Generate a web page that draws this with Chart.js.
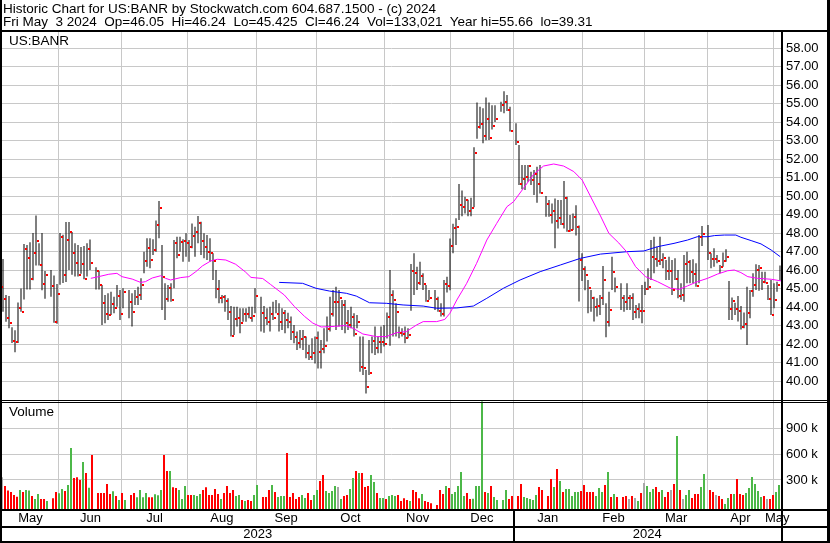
<!DOCTYPE html>
<html lang="en">
<head>
<meta charset="UTF-8">
<title>Historic Chart for US:BANR</title>
<script src="https://cdn.jsdelivr.net/npm/chart.js"></script>
<style>
  body { margin: 0; background: #fff; }
  #page { position: relative; width: 830px; height: 543px; overflow: hidden; color: #000;
          font-family: "Liberation Sans", Arial, sans-serif; }
  #page canvas { position: absolute; left: 0; top: 0; }
  .txt { position: absolute; font-size: 13.5px; line-height: 14px; white-space: pre; z-index: 2; }
</style>
</head>
<body>
<div id="page">
  <canvas id="chart" width="830" height="543"></canvas>
  <div class="txt" style="left:3px; top:2px">Historic Chart for US:BANR by Stockwatch.com 604.687.1500 - (c) 2024</div>
  <div class="txt" style="left:3px; top:15px">Fri May  3 2024  Op=46.05  Hi=46.24  Lo=45.425  Cl=46.24  Vol=133,021  Year hi=55.66  lo=39.31</div>
  <div class="txt" style="left:9px; top:34px">US:BANR</div>
  <div class="txt" style="left:9px; top:405px">Volume</div>
</div>

<script>
  // One slot per weekday, counted from Mon 1 May 2023. First slot shown: Fri 5 May 2023.
  // null = market holiday (no bar).
  const firstSlot = 4;

  const highs = [
    45.55, 46.60, 44.65, 44.60, 42.90, 42.75, 44.25, 45.00, 47.40, 47.35, 47.50, 48.00, 48.95, 47.45, 48.00, 45.95, null, 46.00, 45.70,
    45.25, 48.00, 47.90, 48.60, 48.60, 48.05, 47.45, 47.35, 47.25, 47.30, 47.45, 47.65, null, 46.15, 45.95, 45.19, 44.65, 44.74, 44.83, 44.56, 45.19, 44.92,
    45.01, null, 44.92, 44.74, 44.92, 45.10, 45.55, 46.99, 47.71, 47.71, 47.66, 48.67, 49.73, 47.35, 45.28, 45.19, 45.28, 47.62, 47.80, 47.80, 47.66,
    47.98, 47.62, 48.52, 48.34, 48.92, 48.61, 47.98, 47.89, 47.71, 46.90, 46.00, 45.46, 44.65, 44.65, 44.47, 44.05, 44.02, 44.02, 43.93, 43.93, 43.93, 44.02, 44.02,
    45.01, null, 44.56, 44.05, 43.93, 44.02, 44.29, 44.38, 44.20, 43.93, 43.84, 43.69, 43.48, 43.03, 42.67, 42.76, 42.76, 42.40, 41.95, 42.31, 42.40,
    42.67, 42.22, 42.85, 43.48, 44.56, 44.92, 45.10, 44.92, 44.38, 44.38, 43.84, 44.02, 43.66, 43.57, 42.40, 42.40, 40.59, 42.22, 42.40, 42.94, 42.40, 42.94,
    43.03, 43.70, 46.00, 44.90, 44.20, 42.94, 42.85, 42.94, 42.85, 46.33, 46.90, 46.18, 46.45, 45.82, 45.19, 44.92, null, 44.92, 44.56, 44.20, 45.46, 45.64,
    47.70, 48.50, 48.80, 50.65, 50.30, 49.96, 49.80, 49.90, 52.63, 55.06, 54.83, 54.74, 55.33, 55.05, 54.90, 54.90, null, 55.10, 55.66, 55.46, 54.83,
    null, 53.93, 52.76, 51.67, 51.67, 51.67, 51.31, 51.40, 51.58, 51.67, null, 50.00, 49.78, 49.60, 49.87, 49.78, 49.78, 50.81, 49.96, 48.97, 49.06, 49.50, 48.40,
    46.90, 46.20, 45.46, 44.92, 44.56, 44.47, 44.65, 46.22, 44.20, 44.83, 46.72, 45.60, null, 45.28, 44.65, 45.28, 44.65, 44.74, 44.11, 44.20, 45.19,
    45.37, 46.09, 47.62, 47.80, 47.26, 47.80, 46.90, 46.54, 46.72, 46.54, 46.63, 46.00, 45.28, 46.81, 46.99, 46.54, 46.58, 46.36, 47.89, 48.38, null,
    48.43, 46.90, 47.17, 46.81, 46.27, 46.94, 47.12, 45.40, 44.52, 44.23, 44.60, 44.05, 43.70, 45.10, 44.92, 45.82, 46.31, 46.27, 45.91, 45.91, 45.19, 45.46,
    45.28, 45.37, 46.24
  ];

  const lows = [
    43.30, 43.75, 43.20, 42.85, 42.05, 41.55, 42.05, 43.75, 44.40, 44.95, 44.95, 45.45, 46.25, 46.25, 44.90, 44.45, null, 44.55, 43.15,
    43.10, 45.20, 45.30, 45.35, 46.00, 45.75, 45.65, 45.65, 45.80, 45.50, 45.65, 46.00, null, 44.95, 44.95, 43.03, 43.12, 43.30, 43.57, 43.66, 44.02, 43.30,
    43.93, null, 43.39, 42.94, 44.11, 44.11, 44.38, 45.82, 46.18, 46.09, 46.81, 46.99, 47.71, 43.84, 43.30, 44.29, 44.29, 45.01, 46.63, 46.99, 46.45,
    46.72, 46.45, 47.17, 46.72, 47.44, 46.81, 46.63, 46.54, 46.45, 45.46, 44.47, 44.20, 44.20, 43.75, 43.30, 42.40, 42.49, 42.94, 42.58, 43.20, 43.20, 43.39, 43.20,
    43.66, null, 42.67, 42.61, 43.03, 42.67, 43.30, 43.66, 42.67, 42.76, 42.58, 42.85, 42.22, 42.04, 41.68, 41.77, 41.68, 41.23, 41.14, 41.14, 40.95,
    40.68, 40.68, 41.50, 42.13, 42.67, 43.48, 42.76, 42.94, 42.76, 42.58, 42.76, 42.85, 42.40, 42.85, 40.50, 40.32, 39.33, 40.32, 41.50, 41.40, 41.50, 41.50,
    41.86, 42.30, 41.90, 42.40, 42.40, 42.31, 42.40, 42.04, 42.31, 43.80, 44.65, 44.92, 45.19, 44.92, 44.29, 44.38, null, 43.84, 43.75, 43.48, 43.48, 44.78,
    44.90, 46.90, 47.35, 48.70, 48.90, 49.06, 48.90, 48.90, 49.39, 53.10, 53.64, 52.85, 53.02, 53.03, 53.60, 54.00, null, 54.56, 54.47, 54.60, 53.48,
    null, 52.76, 50.60, 50.36, 50.32, 50.77, 50.60, 50.05, 49.64, 50.14, null, 48.88, 48.88, 48.52, 47.17, 48.25, 48.43, 48.25, 48.07, 48.07, 48.16, 47.86, 44.30,
    45.40, 44.90, 43.66, 43.75, 43.21, 43.48, 43.57, 44.11, 42.36, 42.94, 44.92, 44.80, null, 43.84, 43.75, 43.84, 43.84, 43.30, 43.39, 43.39, 43.12,
    44.65, 44.92, 45.46, 45.82, 46.18, 46.27, 46.09, 45.46, 45.46, 44.65, 45.46, 44.47, 44.38, 44.29, 45.28, 45.28, 45.28, 45.10, 45.28, 47.30, null,
    46.54, 46.09, 46.18, 46.36, 45.82, 46.18, 46.45, 43.30, 43.30, 43.57, 43.21, 42.79, 42.85, 41.95, 43.39, 44.56, 44.92, 44.88, 44.92, 45.28, 44.38, 43.57,
    43.93, 44.83, 45.43
  ];

  const closes = [
    45.10, 44.41, 43.42, 43.15, 42.16, 42.11, 43.93, 43.75, 47.15, 46.67, 45.53, 46.94, 47.59, 46.29, 45.24, 45.75, null, 45.15, 43.21,
    44.72, 47.80, 45.75, 47.62, 48.05, 46.94, 46.40, 45.75, 46.34, 45.53, 47.12, 46.40, null, 45.93, 45.20, 44.23, 43.62, 43.57, 44.14, 43.93, 44.59, 43.62,
    44.83, null, 44.29, 43.73, 44.56, 44.67, 45.21, 46.50, 47.19, 46.54, 47.08, 48.45, 49.37, 45.64, 44.43, 45.01, 44.38, 47.48, 46.79, 47.53, 47.58,
    47.48, 47.22, 47.86, 48.05, 48.56, 47.58, 47.22, 46.99, 46.90, 46.47, 44.99, 44.49, 44.54, 44.33, 43.73, 42.45, 43.35, 43.42, 43.12, 43.64, 43.64, 43.42, 43.53,
    44.61, null, 43.69, 43.42, 43.21, 43.64, 43.42, 43.64, 43.21, 43.69, 43.32, 43.21, 42.67, 42.40, 42.07, 42.29, 42.40, 41.53, 41.30, 41.53, 42.34,
    41.59, 41.75, 41.91, 42.79, 43.64, 44.29, 44.29, 44.50, 44.10, 43.15, 43.05, 43.48, 42.54, 43.20, 40.77, 40.72, 39.69, 40.43, 42.18, 41.80, 42.13, 42.13,
    42.02, 43.48, 44.67, 44.38, 43.73, 42.61, 42.56, 42.34, 42.50, 45.96, 45.86, 45.32, 45.68, 45.24, 44.34, 44.47, null, 44.45, 43.80, 43.62, 45.23, 45.14,
    47.32, 48.25, 48.30, 49.51, 49.42, 49.80, 49.20, 49.35, 52.34, 53.75, 53.87, 53.26, 54.18, 53.15, 53.80, 54.18, null, 54.94, 55.10, 54.67, 53.53,
    null, 52.94, 50.67, 50.90, 51.05, 51.64, 50.88, 51.17, 50.67, 50.18, null, 49.59, 48.99, 49.21, 48.67, 48.83, 48.50, 49.87, 48.13, 48.18, 48.88, 48.34, 46.54,
    46.07, 45.73, 45.05, 44.50, 44.02, 44.05, 44.47, 45.46, 43.19, 43.84, 45.91, 45.08, null, 44.50, 44.29, 44.47, 44.47, 43.73, 43.91, 43.80, 43.80,
    44.95, 45.10, 46.68, 46.61, 46.50, 46.54, 46.67, 45.96, 45.96, 44.92, 45.50, 44.59, 44.65, 46.31, 46.42, 45.87, 45.78, 45.15, 47.77, 47.95, null,
    46.94, 46.61, 46.61, 46.50, 46.14, 46.50, 46.72, 43.91, 44.34, 43.91, 43.80, 42.94, 43.08, 43.69, 44.88, 45.19, 46.02, 46.13, 45.37, 45.32, 44.45, 43.57,
    44.38, 45.19, 46.24
  ];

  // thousands of shares
  const volumes = [
    331, 231, 177, 161, 126, 107, 184, 161, 184, 177, 115, 80, 138, 80, 80, 57, null, 87, 161,
    146, 196, 173, 242, 672, 324, 331, 300, 509, 382, 211, 591, null, 149, 149, 149, 254, 138, 169, 115, 68, 149,
    68, null, 126, 149, 99, 184, 99, 149, 99, 99, 134, 122, 184, 591, 405, 405, 215, 207, 184, 80, 231,
    126, 126, 126, 115, 138, 184, 215, 126, 126, 196, 138, 80, 149, 231, 149, 184, 115, 126, 68, 57, 68, 57, 126,
    242, null, 103, 103, 184, 242, 161, 103, 115, 115, 614, 103, 149, 80, 103, 126, 91, 149, 68, 126, 184,
    289, 358, 173, 149, 173, 231, 219, 80, 115, 126, 196, 324, 405, 382, 382, 219, 231, 358, 277, 149, 91, 91,
    80, 115, 126, 115, 126, 57, 87, 68, 57, 184, 161, 87, 138, 57, 45, 29, null, 10, 184, 138, 231, 207,
    138, 161, 231, 393, 115, 149, 80, 83, 231, 231, 1210, 161, 149, 231, 103, 68, null, 68, 184, 80, 115,
    null, 115, 254, 103, 91, 80, 68, 126, 219, 184, null, 115, 312, 219, 428, 289, 161, 196, 196, 115, 161, 161, 173,
    242, 161, 161, 161, 115, 207, 161, 242, 393, 103, 138, 103, null, 103, 115, 80, 115, 91, 57, 149, 265,
    231, 161, 196, 219, 161, 184, 103, 161, 184, 254, 811, 184, 80, 126, 184, 91, 138, 138, 219, 370, null,
    184, 161, 126, 115, 80, 21, 91, 138, 138, 312, 138, 126, 149, 207, 335, 254, 173, 103, 115, 80, 80, 126,
    161, 242, 133
  ];

  // u = green, d = red, n = grey, - = holiday
  const volumeTone = (
    'nddddduduuduuddu-dd' +
    'uuduudddudud-dddddudud' +
    'u-dduuuudduuuddudduuu' +
    'dduuuddddddudddduududdu' +
    'u-ddduduuuddddduudduu' +
    'dduuuunudduududdduuduu' +
    'duuuddddudddudd' + 'd-dddud' +
    'uuuuudduuuududuu-uudd' +
    '-dduuuuudd-ddududuuuuud' +
    'dddduuududud-ddndnudn' +
    'uuudduddndudnuuddduu-' +
    'ddndduududdduuuuuudndd' +
    'uuu'
  ).split('');

  // moving averages: slot position, price
  const maFastSlot = [34.1, 36.7, 40.1, 42.8, 44.5, 47.9, 50.7, 52.3, 54.6, 57.4, 59.0, 60.7, 64.1, 66.8, 69.1, 71.3, 74.1, 76.3, 79.1, 82.4,
    85.6, 87.5, 91.4, 94.0, 98.6, 102.0, 105.3, 108.1, 110.9, 115.3, 119.0, 121.5, 124.8, 129.3, 132.6, 136.0, 139.3, 142.7, 144.9, 149.4,
    152.1, 153.8, 156.1, 159.4, 162.7, 166.1, 169.4, 172.8, 175.0, 178.3, 181.7, 185.0, 188.4, 191.7, 195.1, 197.9, 200.6, 204.0, 206.8, 210.1,
    212.9, 215.7, 219.0, 223.0, 227.4, 230.2, 233.0, 236.3, 239.7, 243.0, 246.4, 248.6, 250.8, 253.1, 256.4, 260.9, 264.2];
  const maFastValue = [45.55, 45.64, 45.77, 45.82, 45.64, 45.51, 45.33, 45.37, 45.57, 45.69, 45.55, 45.46, 45.59, 45.64, 45.91, 46.22, 46.49, 46.58, 46.54, 46.31,
    45.90, 45.60, 45.54, 45.22, 44.65, 44.02, 43.50, 43.13, 42.92, 42.95, 43.00, 42.85, 42.54, 42.40, 42.40, 42.61, 42.67, 43.03, 43.21, 43.21,
    43.33, 43.66, 44.38, 45.28, 46.36, 47.62, 48.52, 49.42, 49.69, 50.41, 51.17, 51.62, 51.73, 51.62, 51.32, 50.86, 50.00, 48.92, 47.98, 47.46,
    46.95, 46.18, 45.64, 45.37, 45.01, 44.95, 45.14, 45.37, 45.55, 45.78, 45.96, 46.00, 45.86, 45.64, 45.55, 45.50, 45.41];

  const maSlowSlot = [96.9, 104.7, 109.2, 113.7, 119.3, 122.6, 127.0, 132.6, 138.2, 144.9, 149.4, 156.1, 161.6, 166.1, 171.6, 177.2, 183.9, 190.6,
    197.3, 204.0, 212.9, 218.5, 223.0, 228.5, 233.0, 236.3, 239.7, 242.0, 245.3, 249.1, 250.8, 254.2, 257.5, 260.9, 263.9];
  const maSlowValue = [45.33, 45.28, 45.01, 44.86, 44.74, 44.59, 44.23, 44.20, 44.11, 44.05, 43.93, 43.95, 44.05, 44.47, 45.01, 45.46, 45.91, 46.27,
    46.63, 46.86, 46.99, 47.03, 47.26, 47.44, 47.62, 47.80, 47.80, 47.86, 47.89, 47.89, 47.77, 47.59, 47.41, 47.08, 46.72];

  const priceTicks = [40, 41, 42, 43, 44, 45, 46, 47, 48, 49, 50, 51, 52, 53, 54, 55, 56, 57, 58];
  const volumeTicks = [300, 600, 900];
  const monthLabels = ['May', 'Jun', 'Jul', 'Aug', 'Sep', 'Oct', 'Nov', 'Dec', 'Jan', 'Feb', 'Mar', 'Apr', 'May'];
  const monthStarts = [23, 44, 66, 89, 109, 132, 154, 175, 198, 219, 240, 262];   // grid line slots
  const yearLabels = ['2023', '2024'];
  const yearStart = 175;

  // ---- build datasets ----
  const ranges = [], closePts = [], volBars = [], volColors = [];
  const toneColor = { u: '#4cb848', d: '#ff0000', n: '#a8a8a8' };
  highs.forEach((h, i) => {
    if (h === null) return;
    const slot = firstSlot + i;
    ranges.push({ x: slot, y: [lows[i], h] });
    closePts.push({ x: slot, y: closes[i] });
    volBars.push({ x: slot, y: volumes[i] });
    volColors.push(toneColor[volumeTone[i]]);
  });
  const maFast = maFastSlot.map((s, i) => ({ x: s, y: maFastValue[i] }));
  const maSlow = maSlowSlot.map((s, i) => ({ x: s, y: maSlowValue[i] }));

  // little red close tick to the right of each bar
  const tick = document.createElement('canvas');
  tick.width = 5; tick.height = 2;
  const tctx = tick.getContext('2d');
  tctx.fillStyle = '#ff0000';
  tctx.fillRect(3, 0, 2, 2);

  // ---- layout ----
  const plotLeft = 2, plotRight = 781;
  const dayMin = 4.5, dayMax = dayMin + (plotRight - plotLeft) / 3;   // 3 px a weekday
  const calMin = 3.93, calMax = 264.56;                               // month grid as on the source chart
  const priceMin = 38.946, priceMax = 58.865;
  const volMin = -36.6, volMax = 1222.6;

  const mids = [];
  const edges = [calMin, ...monthStarts, calMax];
  for (let i = 0; i < edges.length - 1; i++) mids.push((edges[i] + edges[i + 1]) / 2);
  const yearMids = [(calMin + yearStart) / 2, (yearStart + calMax) / 2];

  const font = { family: '"Liberation Sans", Arial, sans-serif', size: 13 };
  const gridGrey = '#c8c8c8';

  const framePlugin = {
    id: 'frame',
    afterDraw(chart) {
      const { ctx, chartArea: a, scales } = chart;
      const W = chart.width, H = chart.height;
      ctx.save();
      ctx.fillStyle = '#000';
      ctx.fillRect(0, 0, 2, H);
      ctx.fillRect(W - 3, 0, 3, H);
      ctx.fillRect(0, a.top - 2, W, 2);
      ctx.fillRect(a.right, a.top, 2, H - a.top);
      const split = Math.floor(scales.yv.top);
      ctx.fillRect(0, split, W, 1);
      ctx.fillRect(0, split + 2, W, 1);
      ctx.fillRect(0, a.bottom, W, 2);
      ctx.fillRect(0, Math.round(scales.months.bottom), W, 2);
      ctx.fillRect(0, H - 2, W, 2);
      const xs = Math.floor(scales.years.getPixelForValue(yearStart));
      ctx.fillRect(xs, a.bottom, 2, H - a.bottom);
      ctx.restore();
    }
  };

  const hidden = { display: false, drawTicks: false };

  new Chart(document.getElementById('chart'), {
    type: 'scatter',
    data: {
      datasets: [
        { type: 'scatter', label: 'Close', data: closePts, xAxisID: 'x', yAxisID: 'y',
          pointStyle: tick, pointRadius: 2, order: 0 },
        { type: 'line', label: 'MA fast', data: maFast, xAxisID: 'x', yAxisID: 'y',
          borderColor: '#ff00ff', borderWidth: 1, pointRadius: 0, tension: 0, order: 1 },
        { type: 'line', label: 'MA slow', data: maSlow, xAxisID: 'x', yAxisID: 'y',
          borderColor: '#0000ff', borderWidth: 1, pointRadius: 0, tension: 0, order: 1 },
        { type: 'bar', label: 'High-Low', data: ranges, xAxisID: 'x', yAxisID: 'y',
          backgroundColor: '#000', barThickness: 1, inflateAmount: 0, borderWidth: 0, order: 2 },
        { type: 'bar', label: 'Volume', data: volBars, xAxisID: 'xv', yAxisID: 'yv',
          backgroundColor: volColors, barThickness: 2, inflateAmount: 0, borderWidth: 0,
          base: volMin, order: 3 }
      ]
    },
    options: {
      responsive: false,
      animation: false,
      events: [],
      layout: { autoPadding: false, padding: { top: 32, left: plotLeft, right: 0, bottom: 2 } },
      plugins: { legend: { display: false }, tooltip: { enabled: false } },
      scales: {
        x: { type: 'linear', min: dayMin, max: dayMax, offset: false, display: false },
        xv: { type: 'linear', min: dayMin - 1 / 6, max: dayMax - 1 / 6, offset: false, display: false },
        grid: {
          type: 'linear', position: 'bottom', weight: 0, min: calMin, max: calMax, offset: false,
          grid: { color: gridGrey, drawTicks: false }, border: { display: false },
          ticks: { display: false },
          afterBuildTicks: s => { s.ticks = monthStarts.map(v => ({ value: v })); },
          afterFit: s => { s.height = 0; }
        },
        months: {
          type: 'linear', position: 'bottom', weight: 1, min: calMin, max: calMax, offset: false,
          grid: hidden, border: { display: false },
          ticks: { font, color: '#000', padding: 2, autoSkip: false, maxRotation: 0, minRotation: 0,
                   callback: (v, i) => monthLabels[i] },
          afterBuildTicks: s => { s.ticks = mids.map(v => ({ value: v })); },
          afterFit: s => { s.height = 17; }
        },
        years: {
          type: 'linear', position: 'bottom', weight: 2, min: calMin, max: calMax, offset: false,
          grid: hidden, border: { display: false },
          ticks: { font, color: '#000', padding: 1, autoSkip: false, maxRotation: 0, minRotation: 0,
                   callback: (v, i) => yearLabels[i] },
          afterBuildTicks: s => { s.ticks = yearMids.map(v => ({ value: v })); },
          afterFit: s => { s.height = 15; }
        },
        y: {
          type: 'linear', position: 'right', stack: 'panels', stackWeight: 368.5,
          min: priceMin, max: priceMax,
          grid: { color: gridGrey, drawTicks: false }, border: { display: false },
          ticks: { font, color: '#000', padding: 5, autoSkip: false, callback: v => v.toFixed(2) },
          afterBuildTicks: s => { s.ticks = priceTicks.map(v => ({ value: v })); },
          afterFit: s => { s.width = 49; }
        },
        yv: {
          type: 'linear', position: 'right', stack: 'panels', stackWeight: 108.5,
          min: volMin, max: volMax,
          grid: { color: gridGrey, drawTicks: false }, border: { display: false },
          ticks: { font, color: '#000', padding: 5, autoSkip: false, callback: v => v + ' k' },
          afterBuildTicks: s => { s.ticks = volumeTicks.map(v => ({ value: v })); },
          afterFit: s => { s.width = 49; }
        }
      }
    },
    plugins: [framePlugin]
  });
</script>
</body>
</html>
